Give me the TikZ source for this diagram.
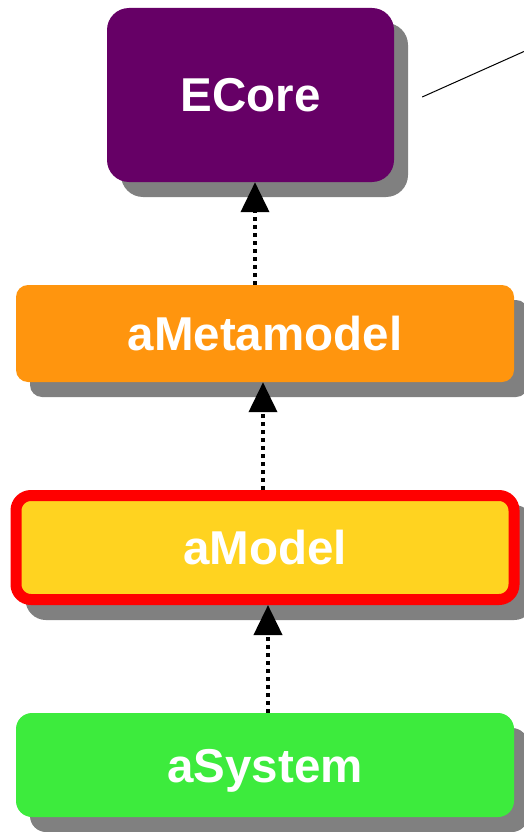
\documentclass[tikz,border=0pt]{standalone}
\usepackage{fontspec}
\setmainfont{Liberation Sans}
\usetikzlibrary{arrows.meta,shadows,positioning}

\definecolor{corepurple}{HTML}{660066}
\definecolor{metaorange}{HTML}{FF950E}
\definecolor{modelyellow}{HTML}{FFD320}
\definecolor{sysgreen}{HTML}{3DEB3D}
\definecolor{shadowgray}{HTML}{808080}

\tikzset{
  level/.style={rounded corners=#1, inner sep=0pt, text=white,
    font=\fontsize{47.5}{47.5}\selectfont\bfseries,
    text height=34pt, text depth=0pt,
    drop shadow={shadow xshift=14pt, shadow yshift=-15pt,
      fill=shadowgray, opacity=1}},
  level/.default=14pt,
  instof/.style={line width=4pt, dash pattern=on 4pt off 4pt,
    -{Triangle[length=30pt,width=28pt]}}
}

\begin{document}
\begin{tikzpicture}[x=1pt,y=-1pt]
\useasboundingbox (0,0) rectangle (524,832);
% the four modelling levels
\node[level=22pt, fill=corepurple, minimum width=287pt, minimum height=174pt]
  (ecore) at (250.5,95) {ECore};
\node[level=12pt, fill=metaorange, minimum width=498pt, minimum height=97pt]
  (meta) at (265,333.5) {aMetamodel};
\node[level=15pt, fill=modelyellow, draw=red, line width=11pt,
  minimum width=498pt, minimum height=104pt,
  drop shadow={shadow xshift=15pt, shadow yshift=-15pt, fill=shadowgray,
    draw=shadowgray, line width=11pt, opacity=1}]
  (model) at (265,547.5) {aModel};
\node[level=16pt, fill=sysgreen, minimum width=498pt, minimum height=104pt]
  (system) at (265,765) {aSystem};
% conformsTo arrows
\draw[instof] ([xshift=-10pt]meta.north) -- ([xshift=4.5pt]ecore.south);
\draw[instof] ([xshift=-2pt]model.north) -- ([xshift=-2pt]meta.south);
\draw[instof] ([xshift=3pt]system.north) -- ([xshift=3pt]model.south);
% note link
\coordinate (note) at (534,47);
\draw[line width=1pt] ([xshift=28pt,yshift=-2pt]ecore.east) -- (note);
\end{tikzpicture}
\end{document}
